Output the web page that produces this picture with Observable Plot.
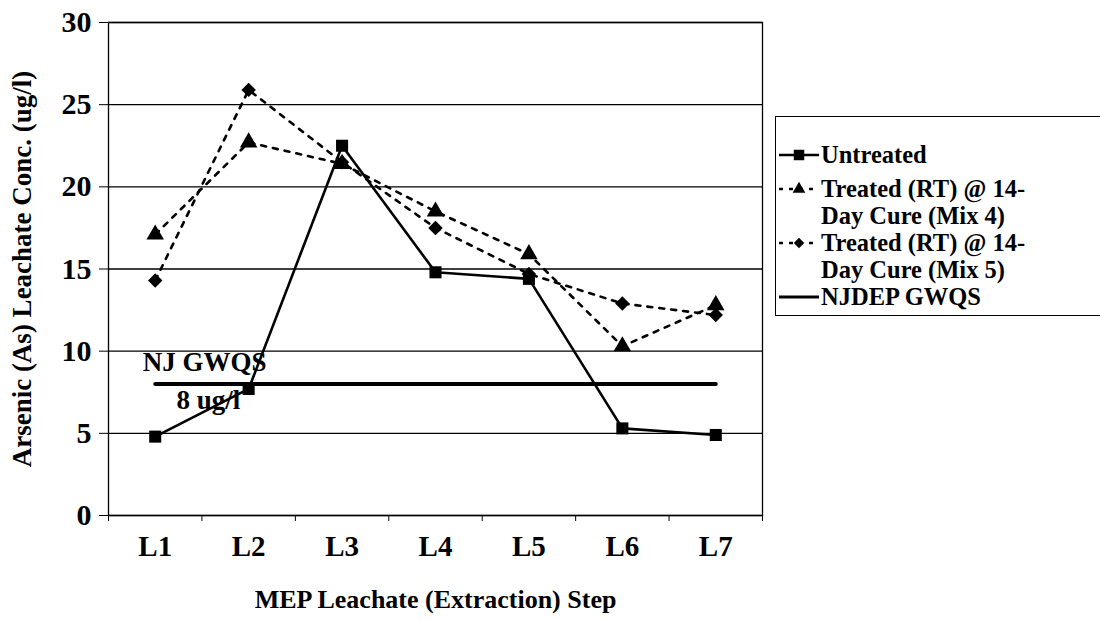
<!DOCTYPE html>
<html><head><meta charset="utf-8">
<script src="https://cdn.jsdelivr.net/npm/d3@7"></script>
<script src="https://cdn.jsdelivr.net/npm/@observablehq/plot@0.6"></script>
<style>
body{margin:0;background:#fff;width:1100px;height:620px;overflow:hidden;position:relative;font-family:"Liberation Serif","Times New Roman",serif;}
#chart{position:absolute;left:0;top:0;}
#legend{position:absolute;left:775px;top:116px;width:360px;height:200px;border:1.5px solid #000;box-sizing:border-box;background:#fff;}
.entry{position:absolute;left:0;display:flex;align-items:flex-start;}
.entry svg{flex:none;}
.entry .lbl{font-weight:bold;font-size:24.5px;line-height:27px;color:#000;white-space:nowrap;}
</style></head><body><div id="chart"></div><div id="legend"></div>
<script>
const steps = ["L1", "L2", "L3", "L4", "L5", "L6", "L7"];
const untreated = [4.8, 7.7, 22.5, 14.8, 14.4, 5.3, 4.9];
const mix4 = [17.1, 22.7, 21.4, 18.5, 15.9, 10.3, 12.8];
const mix5 = [14.3, 25.9, 21.5, 17.5, 14.7, 12.9, 12.2];
const gwqs = 8;
const yTicks = [0, 5, 10, 15, 20, 25, 30];
const seriesNames = ["Untreated", "Treated (RT) @ 14-\nDay Cure (Mix 4)", "Treated (RT) @ 14-\nDay Cure (Mix 5)", "NJDEP GWQS"];
const noteLines = ["NJ GWQS", "8 ug/l"];
const xTitle = "MEP Leachate (Extraction) Step";
const yTitle = "Arsenic (As) Leachate Conc. (ug/l)";

const rows = steps.map((s, i) => ({step: s, i: i + 1, untreated: untreated[i], mix4: mix4[i], mix5: mix5[i], gwqs}));
const bounds = d3.range(0.5, steps.length + 1, 1);

const chart = Plot.plot({
  width: 1100, height: 620,
  marginLeft: 108, marginRight: 338, marginTop: 22, marginBottom: 105,
  style: {fontFamily: "'Liberation Serif', serif", fontSize: "26px", fontWeight: "bold", color: "#000", background: "#fff"},
  x: {type: "linear", domain: [0.5, steps.length + 0.5], ticks: bounds, tickFormat: () => "", tickSize: 6, label: null},
  y: {domain: [0, 30], ticks: yTicks, tickSize: 9, tickFormat: () => "", label: null},
  marks: [
    Plot.ruleY(yTicks, {stroke: "#000", strokeWidth: 1.3}),
    Plot.frame({stroke: "#000", strokeWidth: 1.3}),
    Plot.line(rows, {x: "i", y: "gwqs", stroke: "#000", strokeWidth: 4}),
    Plot.line(rows, {x: "i", y: "mix4", stroke: "#000", strokeWidth: 2.6, strokeDasharray: "5,7"}),
    Plot.line(rows, {x: "i", y: "mix5", stroke: "#000", strokeWidth: 2.6, strokeDasharray: "5,7"}),
    Plot.line(rows, {x: "i", y: "untreated", stroke: "#000", strokeWidth: 2.6}),
    Plot.dot(rows, {x: "i", y: "mix4", symbol: "triangle", r: 6.5, fill: "#000", stroke: "none"}),
    Plot.dot(rows, {x: "i", y: "mix5", symbol: "diamond2", r: 6.5, fill: "#000", stroke: "none"}),
    Plot.dot(rows, {x: "i", y: "untreated", symbol: "square", r: 6.8, fill: "#000", stroke: "none"}),
    Plot.text([noteLines[0]], {x: 1.53, y: 9.3, text: d => d, fontSize: 27, fontWeight: "bold", fill: "#000"}),
    Plot.text([noteLines[1]], {x: 1.57, y: 7.0, text: d => d, fontSize: 27, fontWeight: "bold", fill: "#000"}),
    Plot.text(yTicks, {y: d => d, text: d => String(d), frameAnchor: "left", textAnchor: "end", dx: -17, fontSize: 30, fontWeight: "bold", fill: "#000"}),
    Plot.text(rows, {x: "i", text: "step", frameAnchor: "bottom", dy: 40, fontSize: 29, fontWeight: "bold", fill: "#000"}),
    Plot.text([xTitle], {frameAnchor: "bottom", text: d => d, textAnchor: "middle", dy: 92, fontSize: 26, fontWeight: "bold", fill: "#000"}),
    Plot.text([yTitle], {frameAnchor: "left", text: d => d, textAnchor: "middle", rotate: -90, dx: -86, fontSize: 27, fontWeight: "bold", fill: "#000"})
  ]
});
document.getElementById("chart").appendChild(chart);

// legend
const legend = document.getElementById("legend");
const legendSpecs = [
  {symbol: d3.symbolSquare, size: 110, dash: null, width: 2.6, top: 24},
  {symbol: d3.symbolTriangle, size: 70, dash: "4,6", width: 2.4, top: 58},
  {symbol: d3.symbolDiamond2, size: 70, dash: "4,6", width: 2.4, top: 112},
  {symbol: null, size: 0, dash: null, width: 3, top: 166}
];
legendSpecs.forEach((spec, k) => {
  const div = document.createElement("div");
  div.className = "entry";
  div.style.top = spec.top + "px";
  const svg = d3.create("svg").attr("width", 44).attr("height", 27).style("margin-left", "1px");
  svg.append("line").attr("x1", 2).attr("x2", 42).attr("y1", 14).attr("y2", 14)
    .attr("stroke", "#000").attr("stroke-width", spec.width).attr("stroke-dasharray", spec.dash);
  if (spec.symbol) svg.append("path").attr("d", d3.symbol(spec.symbol, spec.size)()).attr("transform", "translate(22,14)").attr("fill", "#000");
  div.appendChild(svg.node());
  const lbl = document.createElement("div");
  lbl.className = "lbl";
  lbl.innerHTML = seriesNames[k].split("\n").join("<br>");
  div.appendChild(lbl);
  legend.appendChild(div);
});
</script>
</body></html>
